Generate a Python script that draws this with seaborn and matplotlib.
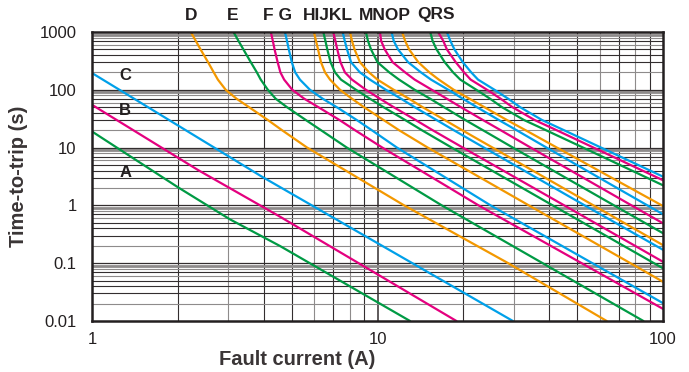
"""Fuse time-current characteristics, curves A to S, on log-log axes."""

import matplotlib

matplotlib.use("Agg")
import matplotlib.pyplot as plt
import pandas as pd
import seaborn as sns
from matplotlib.ticker import FixedLocator, NullFormatter, FixedFormatter

time_levels = [1000, 700, 500, 300, 200, 150, 100, 70, 50, 30, 20, 10, 1, 0.1, 0.01]

# fault current (A) of each curve at those time levels
curve_d = [2.22, 2.31, 2.40, 2.55, 2.67, 2.76, 2.94, 3.21, 3.55, 4.13, 4.63, 5.67, 12.4, 28.7, 63.5]
curve_e = [3.13, 3.26, 3.39, 3.60, 3.78, 3.90, 4.13, 4.40, 4.82, 5.61, 6.34, 7.81, 16.8, 37.9, 85.4]
curve_f = [4.23, 4.30, 4.36, 4.47, 4.57, 4.71, 5.03, 5.54, 6.21, 7.36, 8.34, 10.4, 22.6, 51.9, 119]
curve_g = [4.74, 4.82, 4.89, 5.01, 5.15, 5.35, 5.80, 6.43, 7.20, 8.46, 9.55, 11.7, 24.9, 56.6, 129]
curve_h = [5.99, 6.09, 6.19, 6.34, 6.55, 6.82, 7.39, 8.14, 8.97, 10.5, 11.9, 15.0, 33.9, 76.9, 174]
curve_i = [6.46, 6.57, 6.67, 6.85, 7.10, 7.45, 8.41, 9.41, 10.5, 12.5, 14.3, 18.2, 41.1, 93.0, 211]
curve_j = [7.00, 7.12, 7.23, 7.42, 7.69, 8.14, 9.11, 10.2, 11.4, 13.6, 15.6, 19.9, 45.1, 102, 231]
curve_k = [7.55, 7.68, 7.82, 8.08, 8.68, 9.41, 10.7, 12.1, 13.5, 16.1, 18.5, 23.6, 53.2, 121, 273]
curve_l = [8.01, 8.14, 8.31, 8.68, 9.34, 10.0, 11.4, 12.9, 14.4, 17.2, 19.8, 25.3, 57.1, 129, 293]
curve_m = [9.11, 9.26, 9.49, 10.0, 11.0, 11.9, 13.5, 15.3, 17.1, 20.3, 23.4, 29.8, 67.4, 153, 346]
curve_n = [10.2, 10.3, 10.6, 11.3, 12.5, 13.5, 15.5, 17.5, 19.6, 23.4, 27.0, 34.4, 77.6, 176, 399]
curve_o = [11.2, 11.4, 11.8, 12.8, 14.2, 15.4, 17.7, 19.9, 22.3, 26.6, 30.7, 39.1, 88.2, 200, 452]
curve_p = [12.2, 12.5, 12.9, 13.9, 15.2, 16.4, 18.5, 21.0, 23.7, 28.4, 33.0, 42.5, 99.1, 231, 540]
curve_q = [15.3, 15.6, 16.1, 17.2, 18.4, 19.5, 22.2, 24.8, 27.3, 32.6, 38.9, 52.5, 141, 381, 1029]
curve_r = [16.3, 17.0, 17.5, 18.8, 20.1, 21.2, 24.2, 27.0, 29.7, 35.5, 42.4, 57.1, 154, 415, 1119]
curve_s = [17.5, 18.0, 18.6, 19.9, 21.3, 22.5, 25.7, 28.7, 31.6, 37.7, 45.0, 60.7, 164, 441, 1189]

# the three straight curves, read as (current, time) pairs
curve_a_current = [1, 2, 3.04, 4.55, 13]
curve_a_time = [19, 2.06, 0.575, 0.199, 0.01]
curve_b_current = [1, 2.35, 4.55, 18.9]
curve_b_time = [55, 4.1, 0.64, 0.01]
curve_c_current = [1, 3.92, 29.8]
curve_c_time = [195, 3.18, 0.01]

x_ticks = [1, 10, 100]
x_tick_labels = ["1", "10", "100"]
y_ticks = [0.01, 0.1, 1, 10, 100, 1000]
y_tick_labels = ["0.01", "0.1", "1", "10", "100", "1000"]

GREEN, MAGENTA, BLUE, ORANGE = "#009a44", "#e4007f", "#00a0e9", "#f39800"
INK = "#231f20"
DARK_GRID = "#332e2f"
GREY_GRID = "#8e8b8b"

# long table for seaborn
frames = [
    pd.DataFrame({"curve": "A", "current": curve_a_current, "time": curve_a_time}),
    pd.DataFrame({"curve": "B", "current": curve_b_current, "time": curve_b_time}),
    pd.DataFrame({"curve": "C", "current": curve_c_current, "time": curve_c_time}),
]
level_curves = {
    "D": curve_d, "E": curve_e, "F": curve_f, "G": curve_g, "H": curve_h,
    "I": curve_i, "J": curve_j, "K": curve_k, "L": curve_l, "M": curve_m,
    "N": curve_n, "O": curve_o, "P": curve_p, "Q": curve_q, "R": curve_r,
    "S": curve_s,
}
for name, currents in level_curves.items():
    frames.append(pd.DataFrame({"curve": name, "current": currents, "time": time_levels}))
df = pd.concat(frames, ignore_index=True)

names = list("ABCDEFGHIJKLMNOPQRS")
cycle = [GREEN, MAGENTA, BLUE, ORANGE]
palette = {n: cycle[i % 4] for i, n in enumerate(names)}

sns.set_theme(style="white")
plt.rcParams["font.family"] = ["Liberation Sans", "DejaVu Sans"]

fig = plt.figure(figsize=(6.89, 3.72), dpi=100)
ax = fig.add_axes([92 / 689, 51 / 372, 571 / 689, 289 / 372])
ax.set_xscale("log")
ax.set_yscale("log")

# grid: mixed dark / grey rules as on the printed chart
v_style = {2: DARK_GRID, 3: GREY_GRID, 4: DARK_GRID, 5: DARK_GRID,
           6: GREY_GRID, 7: DARK_GRID, 8: GREY_GRID, 9: DARK_GRID}
for dec in [1, 10]:
    for m, c in v_style.items():
        ax.axvline(dec * m, color=c, lw=0.8, zorder=1)
ax.axvline(10, color=DARK_GRID, lw=1.1, zorder=1)

h_style = {2: GREY_GRID, 3: DARK_GRID, 4: DARK_GRID, 5: DARK_GRID,
           6: GREY_GRID, 7: DARK_GRID, 8: GREY_GRID}
for dec in [0.01, 0.1, 1, 10, 100]:
    for m, c in h_style.items():
        ax.axhline(dec * m, color=c, lw=0.8, zorder=1)
    ax.axhline(dec * 9, color=GREY_GRID, lw=2.0, zorder=1)
    if dec > 0.01:
        ax.axhline(dec, color=DARK_GRID, lw=0.9, zorder=1)

sns.lineplot(
    data=df, x="current", y="time", hue="curve", hue_order=names,
    palette=palette, sort=False, estimator=None, legend=False,
    linewidth=1.6, ax=ax, zorder=3,
)

ax.set_xlim(1, 100)
ax.set_ylim(0.01, 1000)

ax.xaxis.set_major_locator(FixedLocator(x_ticks))
ax.xaxis.set_major_formatter(FixedFormatter(x_tick_labels))
ax.yaxis.set_major_locator(FixedLocator(y_ticks))
ax.yaxis.set_major_formatter(FixedFormatter(y_tick_labels))
ax.xaxis.set_minor_formatter(NullFormatter())
ax.yaxis.set_minor_formatter(NullFormatter())
ax.tick_params(axis="x", which="both", length=0, labelsize=12, colors=INK, pad=8)
ax.tick_params(axis="y", which="both", length=0, labelsize=12, colors=INK, pad=11)

for sp in ax.spines.values():
    sp.set_color(INK)
    sp.set_linewidth(1.8)
    sp.set_zorder(4)

ax.set_xlabel("Fault current (A)", fontsize=14.5, fontweight="bold", color="#3a3536")
ax.set_ylabel("Time-to-trip (s)", fontsize=14.5, fontweight="bold", color="#3a3536")
ax.xaxis.set_label_coords(0.359, -0.1)
ax.yaxis.set_label_coords(-0.112, 0.5)

# curve letters
for label, yf in [("C", 0.851), ("B", 0.730), ("A", 0.513)]:
    ax.text(0.058, yf, label, transform=ax.transAxes, ha="center", va="center",
            fontsize=12, fontweight="bold", color=INK, zorder=5)

for label, xp in [("D", 191), ("E", 233), ("F G", 278), ("HIJKL", 328),
                  ("MNOP", 385), ("QRS", 435.5)]:
    fig.text(xp / 689, 1 - 15 / 372, label, ha="center", va="center",
             fontsize=12.5, fontweight="bold", color=INK)

fig.savefig("out.png", dpi=100)
